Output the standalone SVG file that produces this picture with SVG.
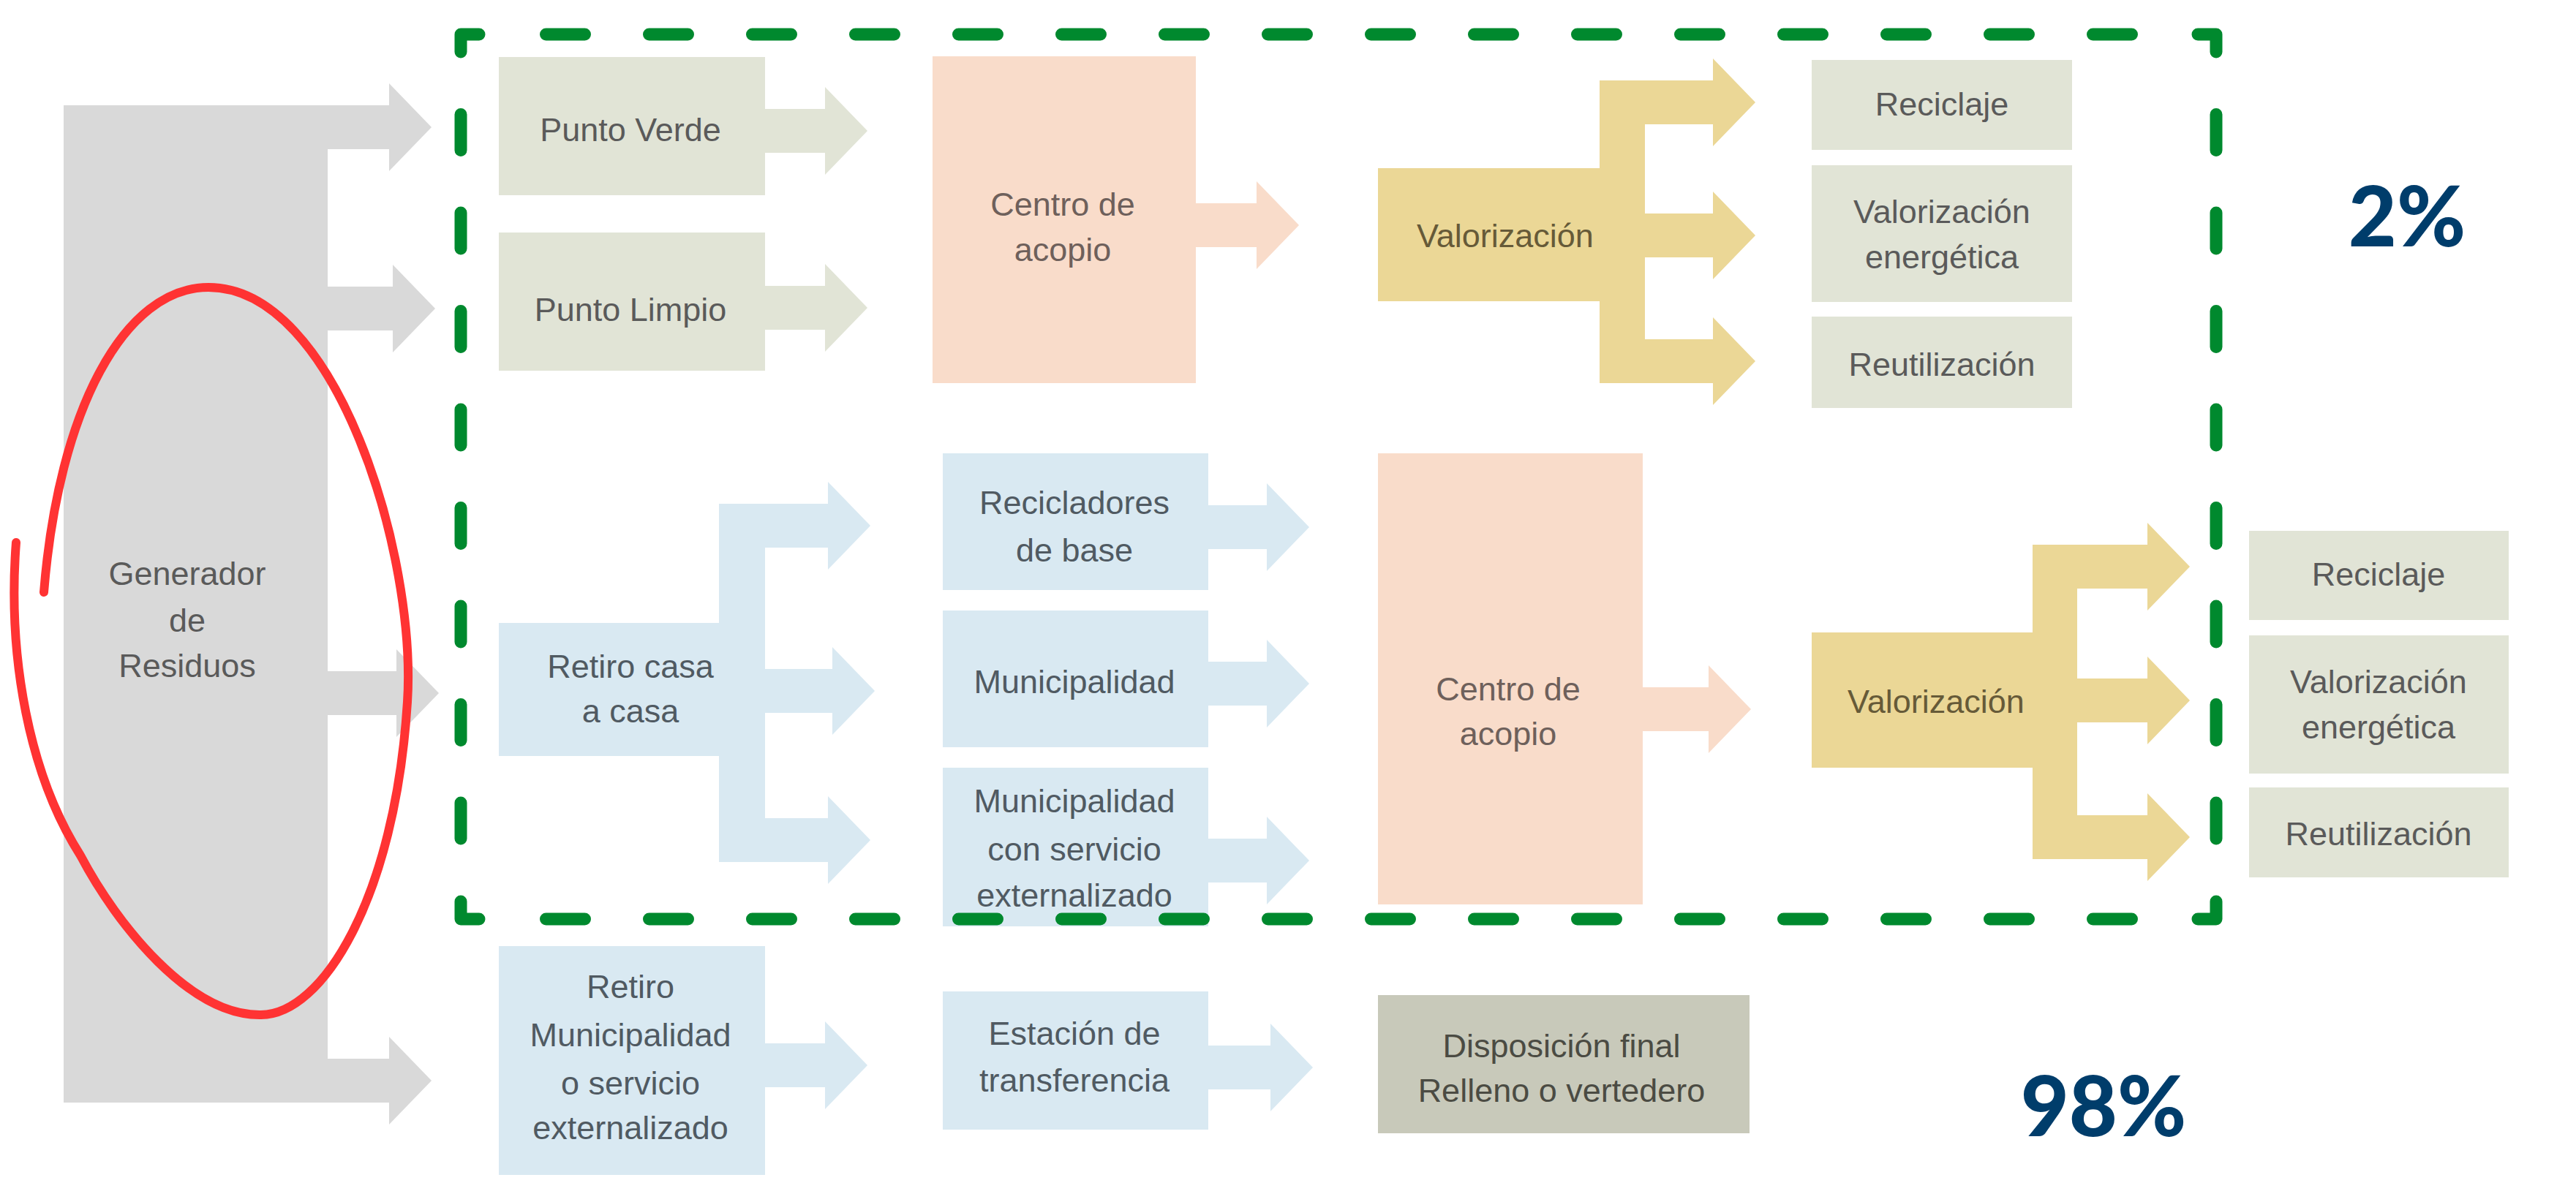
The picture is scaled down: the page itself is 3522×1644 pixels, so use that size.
<svg xmlns="http://www.w3.org/2000/svg" width="3522" height="1644" viewBox="0 0 3522 1644">
<style>
.t{font-family:"Liberation Sans",Arial,sans-serif;font-size:45px;text-anchor:middle}
.tg{fill:#5a5a5a}
.tb{fill:#505a62}
.tp{fill:#6e605b}
.ty{fill:#665a38}
.td{fill:#4b4b43}
.pct{font-family:Lato,"Liberation Sans",sans-serif;font-weight:900;font-size:114px;fill:#003d6b;text-anchor:middle}
.gray{fill:#d9d9d9}
.sage{fill:#e1e4d6}
.pink{fill:#f9dcca}
.gold{fill:#ebd796}
.blue{fill:#d9e9f2}
.disp{fill:#c8c9ba}
.dash{fill:none;stroke:#00892e;stroke-width:17;stroke-linecap:round;stroke-linejoin:round}
</style>
<rect width="3522" height="1644" fill="#ffffff"/>

<g id="connectors">
  <polygon class="gray" points="448,144 532,144 532,114 590,174 532,234 532,204 448,204"/>
  <polygon class="gray" points="448,392 537,392 537,362 595,422 537,482 537,452 448,452"/>
  <polygon class="gray" points="448,918 542,918 542,888 600,948 542,1008 542,978 448,978"/>
  <polygon class="gray" points="448,1448 532,1448 532,1418 590,1478 532,1538 532,1508 448,1508"/>
  <polygon class="sage" points="1046,149 1128,149 1128,119 1186,179 1128,239 1128,209 1046,209"/>
  <polygon class="sage" points="1046,391 1128,391 1128,361 1186,421 1128,481 1128,451 1046,451"/>
  <polygon class="pink" points="1635,278 1718,278 1718,248 1776,308 1718,368 1718,338 1635,338"/>
  <polygon class="pink" points="2246,940 2336,940 2336,910 2394,970 2336,1030 2336,1000 2246,1000"/>
  <rect class="gold" x="2187" y="110" width="62" height="414"/>
  <polygon class="gold" points="2249,110 2342,110 2342,80 2400,140 2342,200 2342,170 2249,170"/>
  <polygon class="gold" points="2249,292 2342,292 2342,262 2400,322 2342,382 2342,352 2249,352"/>
  <polygon class="gold" points="2249,464 2342,464 2342,434 2400,494 2342,554 2342,524 2249,524"/>
  <rect class="gold" x="2779" y="745" width="61" height="430"/>
  <polygon class="gold" points="2840,745 2936,745 2936,715 2994,775 2936,835 2936,805 2840,805"/>
  <polygon class="gold" points="2840,928 2936,928 2936,898 2994,958 2936,1018 2936,988 2840,988"/>
  <polygon class="gold" points="2840,1115 2936,1115 2936,1085 2994,1145 2936,1205 2936,1175 2840,1175"/>
  <rect class="blue" x="983" y="689" width="63" height="490"/>
  <polygon class="blue" points="1046,689 1132,689 1132,659 1190,719 1132,779 1132,749 1046,749"/>
  <polygon class="blue" points="1046,915 1138,915 1138,885 1196,945 1138,1005 1138,975 1046,975"/>
  <polygon class="blue" points="1046,1119 1132,1119 1132,1089 1190,1149 1132,1209 1132,1179 1046,1179"/>
  <polygon class="blue" points="1652,691 1732,691 1732,661 1790,721 1732,781 1732,751 1652,751"/>
  <polygon class="blue" points="1652,905 1732,905 1732,875 1790,935 1732,995 1732,965 1652,965"/>
  <polygon class="blue" points="1652,1147 1732,1147 1732,1117 1790,1177 1732,1237 1732,1207 1652,1207"/>
  <polygon class="blue" points="1046,1427 1128,1427 1128,1397 1186,1457 1128,1517 1128,1487 1046,1487"/>
  <polygon class="blue" points="1652,1430 1737,1430 1737,1400 1795,1460 1737,1520 1737,1490 1652,1490"/>
</g>

<g id="generador">
  <rect class="gray" x="87" y="144" width="361" height="1364"/>
  <text class="t tg" x="256" y="800">Generador</text>
  <text class="t tg" x="256" y="864">de</text>
  <text class="t tg" x="256" y="926">Residuos</text>
</g>

<g id="punto-verde">
  <rect class="sage" x="682" y="78" width="364" height="189"/>
  <text class="t tg" x="862" y="193">Punto Verde</text>
</g>
<g id="punto-limpio">
  <rect class="sage" x="682" y="318" width="364" height="189"/>
  <text class="t tg" x="862" y="439">Punto Limpio</text>
</g>
<g id="centro-acopio-1">
  <rect class="pink" x="1275" y="77" width="360" height="447"/>
  <text class="t tp" x="1453" y="295">Centro de</text>
  <text class="t tp" x="1453" y="357">acopio</text>
</g>
<g id="valorizacion-1">
  <rect class="gold" x="1884" y="230" width="303" height="182"/>
  <text class="t ty" x="2058" y="338">Valorización</text>
</g>
<g id="reciclaje-1">
  <rect class="sage" x="2477" y="82" width="356" height="123"/>
  <text class="t tg" x="2655" y="158">Reciclaje</text>
</g>
<g id="valorizacion-energetica-1">
  <rect class="sage" x="2477" y="226" width="356" height="187"/>
  <text class="t tg" x="2655" y="305">Valorización</text>
  <text class="t tg" x="2655" y="367">energética</text>
</g>
<g id="reutilizacion-1">
  <rect class="sage" x="2477" y="433" width="356" height="125"/>
  <text class="t tg" x="2655" y="514">Reutilización</text>
</g>

<g id="retiro-casa">
  <rect class="blue" x="682" y="852" width="364" height="182"/>
  <text class="t tb" x="862" y="927">Retiro casa</text>
  <text class="t tb" x="862" y="988">a casa</text>
</g>
<g id="recicladores">
  <rect class="blue" x="1289" y="620" width="363" height="187"/>
  <text class="t tb" x="1469" y="703">Recicladores</text>
  <text class="t tb" x="1469" y="768">de base</text>
</g>
<g id="municipalidad">
  <rect class="blue" x="1289" y="835" width="363" height="187"/>
  <text class="t tb" x="1469" y="948">Municipalidad</text>
</g>
<g id="municipalidad-servicio">
  <rect class="blue" x="1289" y="1050" width="363" height="217"/>
  <text class="t tb" x="1469" y="1111">Municipalidad</text>
  <text class="t tb" x="1469" y="1177">con servicio</text>
  <text class="t tb" x="1469" y="1240">externalizado</text>
</g>
<g id="centro-acopio-2">
  <rect class="pink" x="1884" y="620" width="362" height="617"/>
  <text class="t tp" x="2062" y="958">Centro de</text>
  <text class="t tp" x="2062" y="1019">acopio</text>
</g>
<g id="valorizacion-2">
  <rect class="gold" x="2477" y="865" width="302" height="185"/>
  <text class="t ty" x="2647" y="975">Valorización</text>
</g>
<g id="reciclaje-2">
  <rect class="sage" x="3075" y="726" width="355" height="122"/>
  <text class="t tg" x="3252" y="801">Reciclaje</text>
</g>
<g id="valorizacion-energetica-2">
  <rect class="sage" x="3075" y="869" width="355" height="189"/>
  <text class="t tg" x="3252" y="948">Valorización</text>
  <text class="t tg" x="3252" y="1010">energética</text>
</g>
<g id="reutilizacion-2">
  <rect class="sage" x="3075" y="1077" width="355" height="123"/>
  <text class="t tg" x="3252" y="1156">Reutilización</text>
</g>

<g id="retiro-municipalidad">
  <rect class="blue" x="682" y="1294" width="364" height="313"/>
  <text class="t tb" x="862" y="1365">Retiro</text>
  <text class="t tb" x="862" y="1431">Municipalidad</text>
  <text class="t tb" x="862" y="1497">o servicio</text>
  <text class="t tb" x="862" y="1558">externalizado</text>
</g>
<g id="estacion-transferencia">
  <rect class="blue" x="1289" y="1356" width="363" height="189"/>
  <text class="t tb" x="1469" y="1429">Estación de</text>
  <text class="t tb" x="1469" y="1493">transferencia</text>
</g>
<g id="disposicion-final">
  <rect class="disp" x="1884" y="1361" width="508" height="189"/>
  <text class="t td" x="2135" y="1446">Disposición final</text>
  <text class="t td" x="2135" y="1507">Relleno o vertedero</text>
</g>

<g id="frame-2pct">
  <path class="dash" d="M630,71 V47 H655"/>
  <path class="dash" d="M3005,47 H3030 V71"/>
  <path class="dash" d="M630,1233 V1257 H655"/>
  <path class="dash" d="M3005,1257 H3030 V1233"/>
  <path class="dash" d="M746.5,47 H2930" stroke-dasharray="53 88"/>
  <path class="dash" d="M746.5,1257 H2930" stroke-dasharray="53 88"/>
  <path class="dash" d="M630,156.5 V1160" stroke-dasharray="49 85.5"/>
  <path class="dash" d="M3030,156.5 V1160" stroke-dasharray="49 85.5"/>
</g>

<g id="label-2pct"><text class="pct" x="3291" y="337">2%</text></g>
<g id="label-98pct"><text class="pct" x="2876" y="1554">98%</text></g>

<g id="highlight">
  <path d="M22,742 C10,900 40,1060 110,1170 C160,1265 260,1390 357,1388 C440,1388 540,1230 557,960 C570,760 460,393 285,393 C170,393 80,560 60,810" fill="none" stroke="#ff3333" stroke-width="12" stroke-linecap="round" stroke-linejoin="round"/>
</g>
</svg>
